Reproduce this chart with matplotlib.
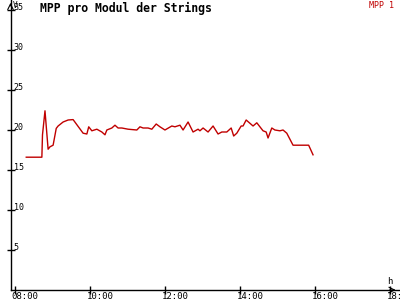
import matplotlib
matplotlib.use('Agg')
import matplotlib.pyplot as plt
import numpy as np

# time of day (HH:MM) and MPP voltage per module [V]
times = ['08:18', '08:43', '08:44', '08:48', '08:53', '08:56', '09:01', '09:06',
         '09:09', '09:17', '09:25', '09:33', '09:49', '09:55', '09:58', '10:03',
         '10:11', '10:19', '10:24', '10:27', '10:35', '10:40', '10:45', '10:51',
         '11:01', '11:15', '11:20', '11:25', '11:33', '11:39', '11:46', '11:52',
         '12:00', '12:11', '12:16', '12:24', '12:29', '12:37', '12:45', '12:53',
         '12:56', '13:01', '13:09', '13:17', '13:25', '13:31', '13:39', '13:46',
         '13:50', '13:55', '14:02', '14:05', '14:10', '14:21', '14:27', '14:37',
         '14:42', '14:45', '14:51', '14:56', '15:04', '15:09', '15:15', '15:25',
         '15:50', '15:57']
values = [16.6, 16.6, 19.4, 22.4, 17.6, 17.9, 18.1, 20.2,
          20.5, 21.0, 21.25, 21.3, 19.6, 19.5, 20.4, 19.9,
          20.1, 19.75, 19.4, 20.0, 20.25, 20.6, 20.25, 20.25,
          20.1, 20.0, 20.4, 20.25, 20.25, 20.1, 20.75, 20.4,
          20.0, 20.5, 20.4, 20.6, 20.0, 21.0, 19.75, 20.1,
          19.9, 20.25, 19.75, 20.5, 19.5, 19.75, 19.75, 20.25,
          19.25, 19.6, 20.5, 20.5, 21.25, 20.5, 20.9, 19.9,
          19.75, 19.0, 20.25, 20.0, 19.9, 20.0, 19.6, 18.1,
          18.1, 16.9]
yticks = [5, 10, 15, 20, 25, 30, 35]
xticks = [8, 10, 12, 14, 16, 18]
xticklabels = ['08:00', '10:00', '12:00', '14:00', '16:00', '18:00']

hours = np.array([int(t[:2]) + int(t[3:]) / 60 for t in times])

red = '#c00000'
mono = 'DejaVu Sans Mono'

fig = plt.figure(figsize=(4, 3), dpi=100)
ax = fig.add_axes([10.5 / 400, 10 / 300, 388 / 400, 290 / 300])
ax.set_xlim(7.88, 18.23)
ax.set_ylim(0, 36.25)

ax.plot(hours, values, color=red, linewidth=1.0)

for s in ['top', 'right']:
    ax.spines[s].set_visible(False)
for s in ['left', 'bottom']:
    ax.spines[s].set_linewidth(1.0)
    ax.spines[s].set_color('black')

# arrow heads
ax.annotate('', xy=(0, 1.0), xytext=(0, 0.97), xycoords='axes fraction',
            arrowprops=dict(arrowstyle='->', lw=0.8, color='black'))
ax.annotate('', xy=(1.0, 0), xytext=(0.97, 0), xycoords='axes fraction',
            arrowprops=dict(arrowstyle='->', lw=0.8, color='black'))

ax.set_yticks(yticks)
ax.set_xticks(xticks)
ax.tick_params(direction='inout', length=6, width=1, labelleft=False, labelbottom=False)

tr_y = ax.get_yaxis_transform()
for v in yticks:
    ax.text(0.008, v + 0.3, str(v), transform=tr_y, fontsize=6, family=mono,
            ha='left', va='center')
tr_x = ax.get_xaxis_transform()
for x, lab in zip(xticks, xticklabels):
    ax.text(x - 0.09, -0.007, lab, transform=tr_x, fontsize=6.5, family=mono,
            ha='left', va='top', clip_on=False)

ax.text(0.007, 0.998, 'V', transform=ax.transAxes, fontsize=5.5, family=mono,
        ha='left', va='top')
fig.text(387 / 400, 1 - 282 / 300, 'h', fontsize=6.5, family=mono, ha='left', va='center')
fig.text(40 / 400, 1 - 8 / 300, 'MPP pro Modul der Strings', fontsize=8.3,
         family=mono, fontweight='bold', ha='left', va='center')
fig.text(369 / 400, 1 - 1 / 300, 'MPP 1', fontsize=6, family=mono, color=red,
         ha='left', va='top')

fig.savefig('out.png', dpi=100)
